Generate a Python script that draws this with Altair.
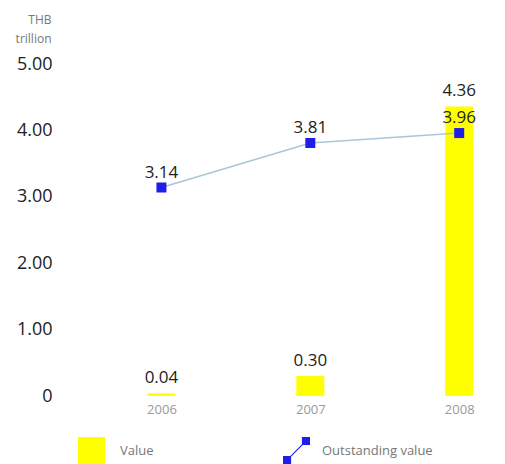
import altair as alt
import pandas as pd

years = [2006, 2007, 2008]
values = [0.04, 0.30, 4.36]
outstanding = [3.14, 3.81, 3.96]
y_ticks = [0, 1, 2, 3, 4, 5]

FONT = "Open Sans"
icon_path = ("M-1,0.4 L-0.4,0.4 L-0.4,1 L-1,1 Z "
             "M0.4,-1 L1,-1 L1,-0.4 L0.4,-0.4 Z "
             "M-0.46,0.4 L0.4,-0.46 L0.46,-0.4 L-0.4,0.46 Z")

df_bar = pd.DataFrame({"year": years, "v": values, "series": ["Value"] * 3})
df_line = pd.DataFrame({"year": years, "v": outstanding, "series": ["Outstanding value"] * 3})

x_scale = alt.Scale(domain=[2005.5, 2008.18], nice=False, zero=False)
y_scale = alt.Scale(domain=[0, 5], nice=False)

x_axis = alt.Axis(
    values=years, format="d", title=None, domain=False, ticks=False, grid=False,
    labelFlush=False, labelColor="#9a9a9a", labelFontSize=13, labelFont=FONT,
    labelPadding=7)
y_axis = alt.Axis(
    values=y_ticks, labelExpr="datum.value == 0 ? '0' : format(datum.value, '.2f')",
    domain=False, ticks=False, grid=False, labelPadding=30, labelFontSize=18,
    labelFont=FONT, labelColor="#222222",
    title=["THB", "trillion"], titleAngle=0, titleAlign="right", titleBaseline="top",
    titleX=-31, titleY=-50, titleFontSize=12, titleFontWeight="normal",
    titleColor="#777777", titleFont=FONT, titleLineHeight=19)

X = alt.X("year:Q", scale=x_scale, axis=x_axis)
Y = alt.Y("v:Q", scale=y_scale, axis=y_axis)

bars = alt.Chart(df_bar).mark_bar(size=28).encode(
    x=X, y=Y,
    color=alt.Color("series:N", scale=alt.Scale(domain=["Value"], range=["#ffff00"]),
                    legend=alt.Legend(orient="none", legendX=-4, legendY=373, title=None,
                                      symbolType="square", symbolSize=729, symbolStrokeWidth=0,
                                      symbolOpacity=1, labelOffset=15, labelFontSize=13,
                                      labelFont=FONT, labelColor="#777777", padding=0)))

bar_text = alt.Chart(df_bar).mark_text(dy=-15, fontSize=17, font=FONT, color="#222222").encode(
    x=X, y=Y, text=alt.Text("v:Q", format=".2f"))

line = alt.Chart(df_line).mark_line(color="#a9c6d8", strokeWidth=1.5).encode(x=X, y=Y)
pts = alt.Chart(df_line).mark_point(shape="square", filled=True, size=100, color="#1e1ee6", opacity=1).encode(
    x=X, y=Y)

legend_layer = alt.Chart(df_line).transform_filter("false").mark_point(filled=True, color="#1e1ee6").encode(
    x=X, y=Y,
    shape=alt.Shape("series:N", scale=alt.Scale(domain=["Outstanding value"], range=[icon_path]),
                    legend=alt.Legend(orient="none", legendX=201, legendY=373, title=None,
                                      symbolSize=729, symbolFillColor="#1e1ee6", symbolStrokeWidth=0,
                                      symbolOpacity=1, labelOffset=12, labelFontSize=13,
                                      labelFont=FONT, labelColor="#777777", padding=0)))

line_text = alt.Chart(df_line).mark_text(dy=-15, fontSize=17, font=FONT, color="#222222").encode(
    x=X, y=Y, text=alt.Text("v:Q", format=".2f"))

chart = alt.layer(bars, bar_text, line, pts, legend_layer, line_text).resolve_legend(
    color="independent", shape="independent"
).properties(
    width=409, height=332,
    autosize=alt.AutoSizeParams(type="none"),
    padding={"left": 82, "top": 64, "right": 14, "bottom": 68},
    background="white",
).configure_view(stroke=None)

chart.save("out.html", embed_options={"renderer": "svg", "actions": False})
